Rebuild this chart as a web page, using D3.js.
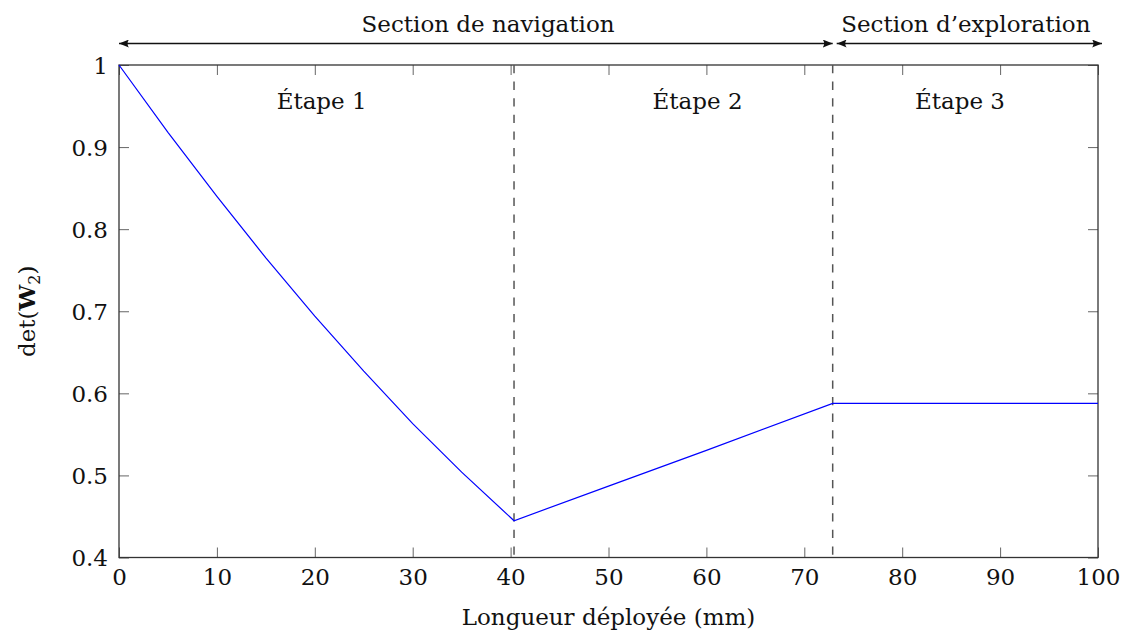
<!DOCTYPE html>
<html>
<head>
<meta charset="utf-8">
<script src="https://cdn.jsdelivr.net/npm/d3@7"></script>
<style>
  html, body { margin: 0; padding: 0; background: #fff; }
  svg text { font-family: "DejaVu Serif", serif; fill: #111; }
</style>
</head>
<body>
<svg id="chart" width="1127" height="635"></svg>
<script>
// Determinant along the deployed length: stage 1 (curved descent), stage 2, stage 3 (plateau)
const lengthMm = [0, 5, 10, 15, 20, 25, 30, 35, 40.35, 50, 60, 72.9, 100];
const detW2    = [1.0, 0.918, 0.840, 0.765, 0.694, 0.627, 0.563, 0.504, 0.4448, 0.487, 0.5305, 0.5878, 0.5878];

// Stage boundaries (vertical dashed lines)
const stageBounds = [40.35, 72.9];

// Stage labels and their x positions
const stageNames = ["Étape 1", "Étape 2", "Étape 3"];
const stageLabelX = [20.7, 59.1, 85.9];

// Sections shown as arrows above the plot
const sectionNames = ["Section de navigation", "Section d\u2019exploration"];
const sectionStart = [0, 72.9];
const sectionEnd   = [72.9, 100];
const sectionLabelX = [37.7, 86.5];

const xTicks = [0, 10, 20, 30, 40, 50, 60, 70, 80, 90, 100];
const yTicks = [0.4, 0.5, 0.6, 0.7, 0.8, 0.9, 1];

const svg = d3.select("#chart");
const pLeft = 119, pRight = 1098, pTop = 65, pBottom = 557.5;

const x = d3.scaleLinear().domain([0, 100]).range([pLeft, pRight]);
const y = d3.scaleLinear().domain([0.4, 1]).range([pBottom, pTop]);

const tickLen = 10;
const fontSize = 23;

// Arrowhead markers
const defs = svg.append("defs");
defs.append("marker")
  .attr("id", "head")
  .attr("viewBox", "0 0 10 8")
  .attr("refX", 10).attr("refY", 4)
  .attr("markerWidth", 10).attr("markerHeight", 8)
  .attr("markerUnits", "userSpaceOnUse")
  .attr("orient", "auto-start-reverse")
  .append("path")
  .attr("d", "M0,0 Q3,4 0,8 L10,4 Z")
  .attr("fill", "#111");

// Axes: ticks pointing into the plot, mirrored on the opposite side
const gBottom = svg.append("g").attr("transform", `translate(0,${pBottom})`)
  .call(d3.axisBottom(x).tickValues(xTicks).tickSizeInner(-tickLen).tickSizeOuter(0).tickPadding(12).tickFormat(d3.format("d")));
const gTop = svg.append("g").attr("transform", `translate(0,${pTop})`)
  .call(d3.axisTop(x).tickValues(xTicks).tickSizeInner(-tickLen).tickSizeOuter(0).tickFormat(""));
const gLeft = svg.append("g").attr("transform", `translate(${pLeft},0)`)
  .call(d3.axisLeft(y).tickValues(yTicks).tickSizeInner(-tickLen).tickSizeOuter(0).tickPadding(11).tickFormat(d => d === 1 ? "1" : d3.format(".1f")(d)));
const gRight = svg.append("g").attr("transform", `translate(${pRight},0)`)
  .call(d3.axisRight(y).tickValues(yTicks).tickSizeInner(-tickLen).tickSizeOuter(0).tickFormat(""));

[gBottom, gTop, gLeft, gRight].forEach(g => {
  g.select(".domain").remove();
  g.selectAll(".tick line").attr("stroke", "#666").attr("stroke-width", 1);
  g.selectAll(".tick text")
    .style("font-family", "'DejaVu Serif', serif")
    .style("font-size", fontSize + "px")
    .attr("fill", "#111");
});
// Tick label placement
gBottom.selectAll(".tick text").attr("y", 8).attr("dy", "0.85em");
gLeft.selectAll(".tick text").attr("x", -11).attr("dy", "0.35em");

// Frame
svg.append("rect")
  .attr("x", pLeft).attr("y", pTop)
  .attr("width", pRight - pLeft).attr("height", pBottom - pTop)
  .attr("fill", "none").attr("stroke", "#333").attr("stroke-width", 1.3);

// Stage boundaries
svg.selectAll(".bound").data(stageBounds).join("line")
  .attr("class", "bound")
  .attr("x1", d => x(d)).attr("x2", d => x(d))
  .attr("y1", pTop).attr("y2", pBottom)
  .attr("stroke", "#555").attr("stroke-width", 1.5)
  .attr("stroke-dasharray", "8.3,8.3");

// Curve
const line = d3.line().x((d, i) => x(lengthMm[i])).y(d => y(d));
svg.append("path")
  .datum(detW2)
  .attr("d", line)
  .attr("fill", "none")
  .attr("stroke", "#0000ff")
  .attr("stroke-width", 1.2);

// Stage labels
svg.selectAll(".stage").data(stageNames).join("text")
  .attr("class", "stage")
  .attr("x", (d, i) => x(stageLabelX[i]))
  .attr("y", 109)
  .attr("text-anchor", "middle")
  .style("font-size", fontSize + "px")
  .text(d => d);

// Section arrows
const arrowY = 43.5;
svg.selectAll(".sec").data(sectionNames).join("line")
  .attr("class", "sec")
  .attr("x1", (d, i) => x(sectionStart[i]) + (i === 0 ? 0 : 4))
  .attr("x2", (d, i) => x(sectionEnd[i]) + (i === 0 ? 0 : 4))
  .attr("y1", arrowY).attr("y2", arrowY)
  .attr("stroke", "#111").attr("stroke-width", 1.6)
  .attr("marker-start", "url(#head)")
  .attr("marker-end", "url(#head)");

svg.selectAll(".secLabel").data(sectionNames).join("text")
  .attr("class", "secLabel")
  .attr("x", (d, i) => x(sectionLabelX[i]))
  .attr("y", 32)
  .attr("text-anchor", "middle")
  .style("font-size", fontSize + "px")
  .text(d => d);

// Axis titles
svg.append("text")
  .attr("x", (pLeft + pRight) / 2)
  .attr("y", 625)
  .attr("text-anchor", "middle")
  .style("font-size", fontSize + "px")
  .text("Longueur déployée (mm)");

const yTitle = svg.append("text")
  .attr("transform", `translate(35,${(pTop + pBottom) / 2}) rotate(-90)`)
  .attr("text-anchor", "middle")
  .style("font-size", fontSize + "px");
yTitle.append("tspan").text("det(");
yTitle.append("tspan").style("font-weight", "bold").text("W");
yTitle.append("tspan").attr("dy", 5).style("font-size", "16px").text("2");
yTitle.append("tspan").attr("dy", -5).text(")");
</script>
</body>
</html>
